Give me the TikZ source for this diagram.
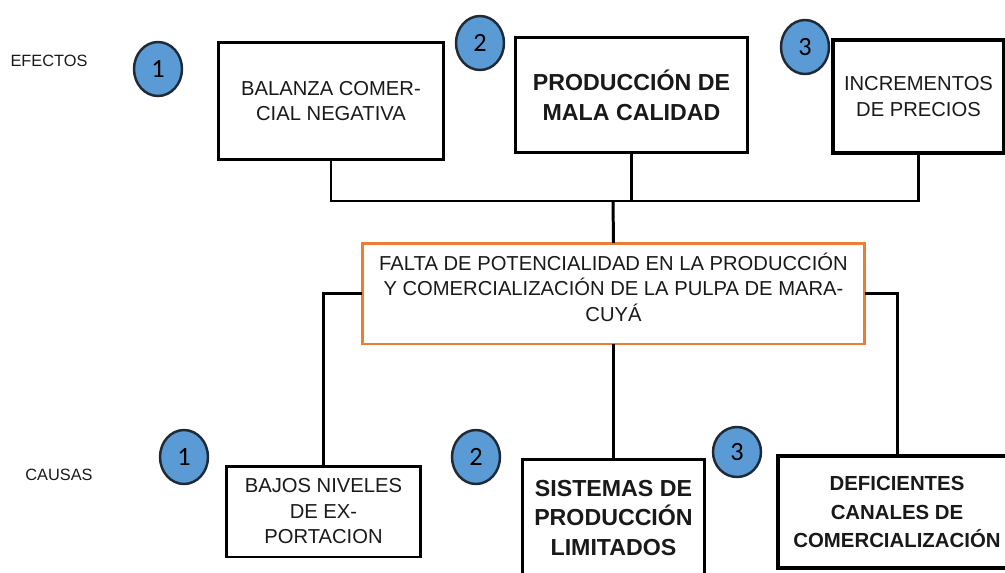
\documentclass[tikz,border=0pt]{standalone}
\usepackage{fontspec}
\setmainfont{Liberation Sans}
\newfontfamily\digitfont{Carlito}
\usetikzlibrary{positioning}
\usetikzlibrary{shapes.geometric}
\definecolor{probedge}{HTML}{ED7D31}
\definecolor{numfill}{HTML}{5B9BD5}
\definecolor{numedge}{HTML}{1F2A36}
\tikzset{
  box/.style={rectangle,draw=black,line width=1.7pt,inner sep=0pt,outer sep=0pt,align=center,text=black!90},
  regtext/.style={font=\fontsize{11.5}{14.5}\selectfont},
  boldtext/.style={font=\bfseries\fontsize{13.2}{17}\selectfont},
  numcirc/.style={ellipse,draw=numedge,fill=numfill,line width=1.4pt,minimum width=0.96cm,minimum height=1.08cm,inner sep=0pt,font=\digitfont\fontsize{15}{15}\selectfont},
  sidelabel/.style={font=\fontsize{9.3}{11}\selectfont,text=black!90},
  conn/.style={line width=1.7pt,draw=black}
}

\begin{document}
\begin{tikzpicture}[x=0.02cm,y=-0.02cm]
\useasboundingbox (0,0) rectangle (1005,572);
\clip (0,0) rectangle (1005,572);

\node[sidelabel] (lbleff) at (49,61) {EFECTOS};
\node[sidelabel] (lblcau) at (59,475) {CAUSAS};

% efectos
\node[box,regtext,minimum width=4.52cm,minimum height=2.36cm] (bal) at (331,101) {BALANZA COMER-\\CIAL NEGATIVA};
\node[box,boldtext,minimum width=4.66cm,minimum height=2.32cm] (prod) at (631.5,95) {PRODUCCIÓN DE\\MALA CALIDAD};
\node[box,regtext,line width=2.2pt,minimum width=3.42cm,minimum height=2.26cm] (inc) at (918.5,96.5) {INCREMENTOS\\DE PRECIOS};
\node[numcirc] (e1) at (158,69) {1};
\node[numcirc] (e2) at (480,43) {2};
\node[numcirc] (e3) at (805,47) {3};

% problema central
\node[box,regtext,draw=probedge,text depth=7.4pt,minimum width=10.06cm,minimum height=2.02cm] (prob) at (613.5,293.5) {FALTA DE POTENCIALIDAD EN LA PRODUCCIÓN\\Y COMERCIALIZACIÓN DE LA PULPA DE MARA-\\CUYÁ};

% causas
\node[box,regtext,minimum width=3.9cm,minimum height=1.82cm] (bajos) at (323.5,511.5) {BAJOS NIVELES\\DE EX-\\PORTACION};
\node[box,boldtext,minimum width=3.66cm,minimum height=2.36cm] (sis) at (613.5,518) {SISTEMAS DE\\PRODUCCIÓN\\LIMITADOS};
\node[box,font=\bfseries\fontsize{11.6}{16}\selectfont,line width=2pt,minimum width=4.76cm,minimum height=2.24cm] (def) at (897,512) {DEFICIENTES\\CANALES DE\\COMERCIALIZACIÓN};
\node[numcirc] (c1) at (184,457) {1};
\node[numcirc] (c2) at (476,457) {2};
\node[numcirc,minimum height=1cm] (c3) at (737,452) {3};

\coordinate (j) at (613,201);
\draw[conn] (bal.south) |- (j);
\draw[conn] (prod.south) |- (j);
\draw[conn] (inc.south) |- (j);
\draw[conn] (j) -- (prob.north);
\draw[conn] (prob.west) -| (bajos.north);
\draw[conn] (prob.south) -- (sis.north);
\draw[conn] (prob.east) -| (def.north);

\end{tikzpicture}
\end{document}
